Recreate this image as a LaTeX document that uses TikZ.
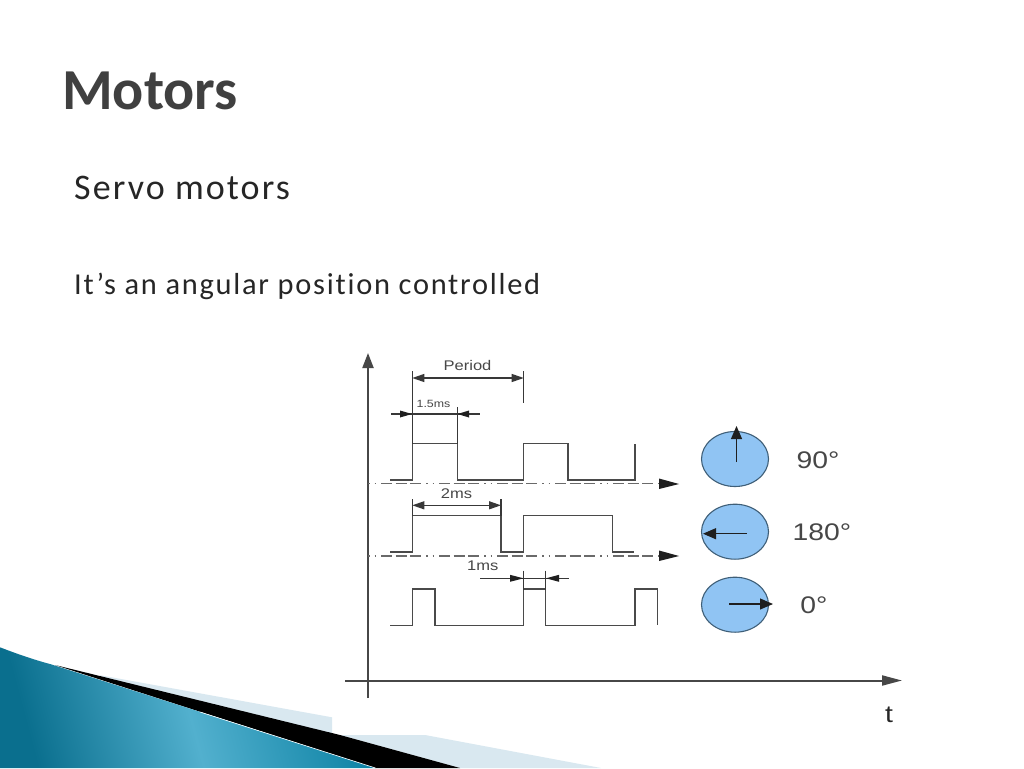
\documentclass[tikz,border=0pt]{standalone}
\usepackage{fontspec}
\usetikzlibrary{arrows.meta}
\setmainfont{Liberation Sans}[FakeStretch=1.18]
\newfontfamily\titlefont{Carlito}[BoldFont={Carlito Bold}]
\newfontfamily\bodyfont{Carlito}[LetterSpace=5.8,Ligatures=NoCommon]
\definecolor{wireC}{HTML}{4A4A4A}
\definecolor{axisC}{HTML}{6A6A6A}
\definecolor{discC}{HTML}{90C4F3}
\definecolor{discL}{HTML}{3F5F78}
\definecolor{paleC}{HTML}{D9E8F0}
\definecolor{tealD}{HTML}{0A6F8E}
\definecolor{tealL}{HTML}{52B0CE}
\definecolor{tealM}{HTML}{0E83A5}
\tikzset{
  x=1pt,y=-1pt,
  wire/.style={draw=wireC,line width=1.5pt},
  dimline/.style={draw=black!78,line width=1.2pt},
  medtip/.style={{Triangle[length=12pt,width=8pt]}-{Triangle[length=12pt,width=8pt]}},
  axisline/.style={draw=axisC,line width=2pt},
  refline/.style={draw=axisC,line width=1.5pt,dash pattern=on 1.5pt off 5pt on 1.5pt off 5pt on 11pt off 3.5pt on 11pt off 3.5pt on 11pt off 5pt},
  tipfill/.style={draw=none,fill=black!88},
  disclook/.style={fill=discC,draw=discL,line width=1.1pt},
  lab/.style={text=black!72,inner sep=0pt,font=\fontsize{14}{14}\selectfont},
  deg/.style={text=black!72,inner sep=0pt,font=\fontsize{24}{24}\selectfont},
  head/.style={-{Triangle[length=13pt,width=11pt]},draw=black!88,line width=1.1pt}
}
\begin{document}
\begin{tikzpicture}
\useasboundingbox (0,0) rectangle (1024,768);
\fill[white] (0,0) rectangle (1024,768);
% decoration
\fill[paleC] (99,675) -- (332,717.3) -- (332,735) -- (200,720) -- cycle;
\fill[paleC] (340,735) -- (425,735) -- (601,768) -- (460,768) -- cycle;
\fill[black] (55,665) -- (340,735) -- (460,768) -- (375,768) -- cycle;
\shade[left color=tealD,right color=tealM,middle color=tealL,shading angle=105]
  (0,647.3) .. controls (20,655) and (35,660) .. (51,664.3) -- (375.5,768) -- (0,768) -- cycle;
\draw[white,line width=0.6pt] (200,712) -- (375.5,768);
% text
\node[anchor=base west,inner sep=0pt,text=black!75] (title) at (62,109)
  {\titlefont\bfseries\fontsize{58}{58}\selectfont Motors};
\node[anchor=base west,inner sep=0pt,text=black!85] (sub) at (74,199)
  {\bodyfont\fontsize{36}{36}\selectfont Servo motors};
\node[anchor=base west,inner sep=0pt,text=black!85] (desc) at (74,294)
  {\bodyfont\fontsize{30.4}{30.4}\selectfont It’s an angular position controlled};
% axes
\draw[axisline,-{Triangle[length=15pt,width=11pt]},black!72] (368,698) -- (368,353);
\draw[axisline,-{Triangle[length=20pt,width=10pt]},black!72] (345,680.5) -- (902,680.5);
\draw[refline] (368,483.7) -- (664,483.7);
\draw[refline] (368,556) -- (664,556);
\fill[tipfill] (659,478.5) -- (679,484) -- (659,489) -- cycle;
\fill[tipfill] (659,550.5) -- (679,556) -- (659,561) -- cycle;
% waves
\draw[wire] (390,480) -- (412.3,480) -- (412.3,443.7) -- (457.3,443.7) -- (457.3,480) -- (523.7,480) -- (523.7,443.7) -- (568,443.7) -- (568,480) -- (635,480) -- (635,444);
\draw[wire] (390,552) -- (412.3,552) -- (412.3,515.7) -- (501,515.7) -- (501,552) -- (523.7,552) -- (523.7,515.7) -- (612.7,515.7) -- (612.7,552) -- (634,552);
\draw[wire] (390,625.3) -- (412.3,625.3) -- (412.3,589) -- (435,589) -- (435,625.3) -- (523.7,625.3) -- (523.7,589) -- (545.7,589) -- (545.7,625.3) -- (635,625.3) -- (635,589) -- (657.7,589) -- (657.7,625.3);
% dimension: period
\draw[dimline] (412.3,371) -- (412.3,444);
\draw[dimline] (523.7,371) -- (523.7,403);
\draw[dimline,medtip] (412.3,378) -- (523.7,378);
\node[lab] (period) at (467.5,365.5) {Period};
% dimension: 1.5ms
\draw[dimline] (457.3,407) -- (457.3,444);
\draw[dimline] (391,414) -- (480,414);
\fill[tipfill] (400,410.5) -- (412,414) -- (400,417.5) -- cycle;
\fill[tipfill] (469,410.5) -- (457.5,414) -- (469,417.5) -- cycle;
\node[lab,font=\fontsize{10.5}{10.5}\selectfont] (t15) at (433.5,404) {1.5ms};
% dimension: 2ms
\draw[dimline] (412.3,499) -- (412.3,516);
\draw[dimline] (501,499) -- (501,516);
\draw[dimline,medtip] (412.3,505.3) -- (501,505.3);
\node[lab] (t2) at (456.5,494) {2ms};
% dimension: 1ms
\draw[dimline] (523.7,570.7) -- (523.7,590);
\draw[dimline] (545.7,570.7) -- (545.7,590);
\draw[dimline] (480,578.3) -- (568.7,578.3);
\fill[tipfill] (510,574.8) -- (523.5,578.3) -- (510,581.8) -- cycle;
\fill[tipfill] (559,574.8) -- (546,578.3) -- (559,581.8) -- cycle;
\node[lab] (t1) at (482.7,566) {1ms};
% discs
\draw[disclook] (735,459) ellipse [x radius=33.5,y radius=27.5];
\draw[disclook] (735,531.7) ellipse [x radius=33.5,y radius=27.5];
\draw[disclook] (735,604.7) ellipse [x radius=33.5,y radius=27.5];
\coordinate (a90s) at (736.5,462);
\coordinate (a90e) at (736.5,426);
\coordinate (a180s) at (746.7,533.7);
\coordinate (a180e) at (703,533.7);
\coordinate (a0s) at (729,604);
\coordinate (a0e) at (773,604);
\draw[head] (a90s) -- (a90e);
\draw[head] (a180s) -- (a180e);
\draw[head] (a0s) -- (a0e);
\node[deg] (d90) at (818,460.5) {90°};
\node[deg] (d180) at (822,532.5) {180°};
\node[deg] (d0) at (814,605.5) {0°};
\node[deg,text=black!85] (tlab) at (889,715) {t};
\end{tikzpicture}
\end{document}
